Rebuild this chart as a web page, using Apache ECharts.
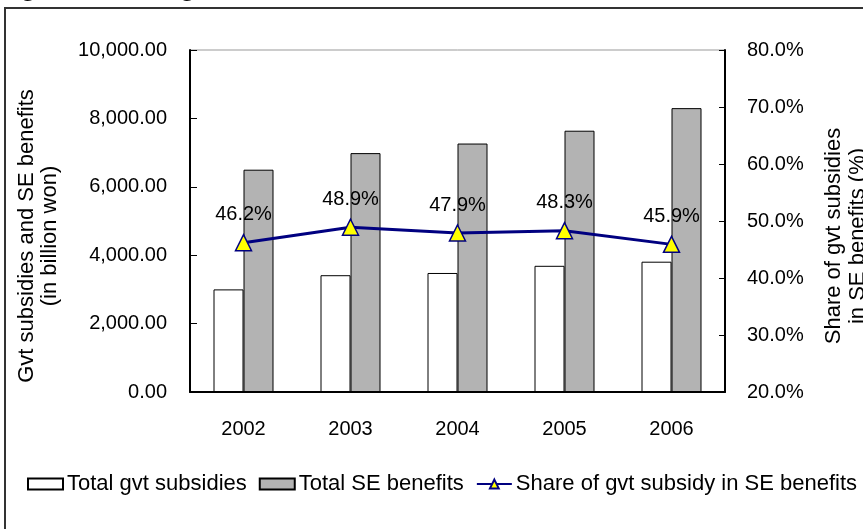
<!DOCTYPE html>
<html>
<head>
<meta charset="utf-8">
<script src="https://cdn.jsdelivr.net/npm/echarts@6/dist/echarts.min.js"></script>
<style>
  html, body { margin: 0; padding: 0; background: #fff; }
  #chart { width: 863px; height: 529px; }
</style>
</head>
<body>
<div id="chart"></div>
<script>
// Years on the category axis
const years = ['2002', '2003', '2004', '2005', '2006'];
// Total government subsidies (billion won)
const govtSubsidies = [3000, 3415, 3480, 3690, 3810];
// Total SE benefits (billion won)
const seBenefits = [6500, 6985, 7265, 7640, 8300];
// Share of government subsidy in SE benefits (%)
const subsidyShare = [46.2, 48.9, 47.9, 48.3, 45.9];

const FONT = '"Liberation Sans", Arial, sans-serif';

const chart = echarts.init(document.getElementById('chart'), null, { renderer: 'canvas' });

function thousands(v) {
  return v.toFixed(2).replace(/\B(?=(\d{3})+(?!\d))/g, ',');
}

chart.setOption({
  animation: false,
  backgroundColor: '#ffffff',
  textStyle: { fontFamily: FONT },
  grid: {
    left: 190, right: 138, top: 50, bottom: 137,
    show: true, borderColor: '#999999', borderWidth: 1, containLabel: false
  },
  graphic: [
    {
      type: 'rect', silent: true, z: -1,
      shape: { x: 5, y: 8, width: 900, height: 560 },
      style: { fill: 'none', stroke: '#333333', lineWidth: 2 }
    },
    {
      type: 'text', silent: true,
      x: 2, y: 2,
      style: {
        text: 'Figure 4. Share of govt subsidies in total SE benefits',
        font: '24px "Liberation Serif", "Times New Roman", serif',
        fill: '#000', textAlign: 'left', textVerticalAlign: 'bottom'
      }
    },
    {
      type: 'text', silent: true,
      x: 38, y: 236, rotation: Math.PI / 2,
      style: {
        text: 'Gvt subsidies and SE benefits\n(in billion won)',
        font: '22px ' + FONT, lineHeight: 23,
        fill: '#000', textAlign: 'center', textVerticalAlign: 'middle'
      }
    },
    {
      type: 'text', silent: true,
      x: 846, y: 236, rotation: Math.PI / 2,
      style: {
        text: 'Share of gvt subsidies\nin SE benefits (%)',
        font: '22px ' + FONT, lineHeight: 24,
        fill: '#000', textAlign: 'center', textVerticalAlign: 'middle'
      }
    }
  ],
  legend: {
    left: 22, top: 468,
    itemWidth: 35, itemHeight: 11, itemGap: 12,
    textStyle: { fontFamily: FONT, fontSize: 22, color: '#000', padding: [0, 0, 0, -1] },
    data: [
      { name: 'Total gvt subsidies', icon: 'rect' },
      { name: 'Total SE benefits', icon: 'rect' },
      { name: 'Share of gvt subsidy in SE benefits' }
    ]
  },
  xAxis: {
    type: 'category',
    data: years,
    axisLine: { lineStyle: { color: '#000', width: 2 } },
    axisTick: { inside: true, length: 7, lineStyle: { color: '#000', width: 1 } },
    axisLabel: { color: '#000', fontSize: 20, fontFamily: FONT, margin: 27 }
  },
  yAxis: [
    {
      type: 'value', min: 0, max: 10000, interval: 2000,
      axisLine: { show: true, lineStyle: { color: '#000', width: 2 } },
      axisTick: { show: true, inside: true, length: 7, lineStyle: { color: '#000' } },
      splitLine: { show: false },
      axisLabel: { color: '#000', fontSize: 20, fontFamily: FONT, margin: 23, formatter: thousands }
    },
    {
      type: 'value', min: 20, max: 80, interval: 10, position: 'right',
      axisLine: { show: true, lineStyle: { color: '#000', width: 2 } },
      axisTick: { show: true, inside: true, length: 6, lineStyle: { color: '#000' } },
      splitLine: { show: false },
      axisLabel: { color: '#000', fontSize: 20, fontFamily: FONT, margin: 22,
        formatter: v => v.toFixed(1) + '%' }
    }
  ],
  series: [
    {
      name: 'Total gvt subsidies', type: 'bar', data: govtSubsidies,
      barWidth: 30, barGap: '0%',
      itemStyle: { color: '#ffffff', borderColor: '#000', borderWidth: 1 }
    },
    {
      name: 'Total SE benefits', type: 'bar', data: seBenefits,
      barWidth: 30, barGap: '0%',
      itemStyle: { color: '#b3b3b3', borderColor: '#000', borderWidth: 1 }
    },
    {
      name: 'Share of gvt subsidy in SE benefits', type: 'line', yAxisIndex: 1,
      data: subsidyShare,
      symbol: 'triangle', symbolSize: 16,
      lineStyle: { color: '#000080', width: 3 },
      itemStyle: { color: '#ffff00', borderColor: '#000080', borderWidth: 1.5 },
      label: {
        show: true, position: 'top', distance: 9,
        color: '#000', fontSize: 20, fontFamily: FONT,
        formatter: p => p.value.toFixed(1) + '%'
      },
      z: 5
    }
  ]
});
</script>
</body>
</html>
